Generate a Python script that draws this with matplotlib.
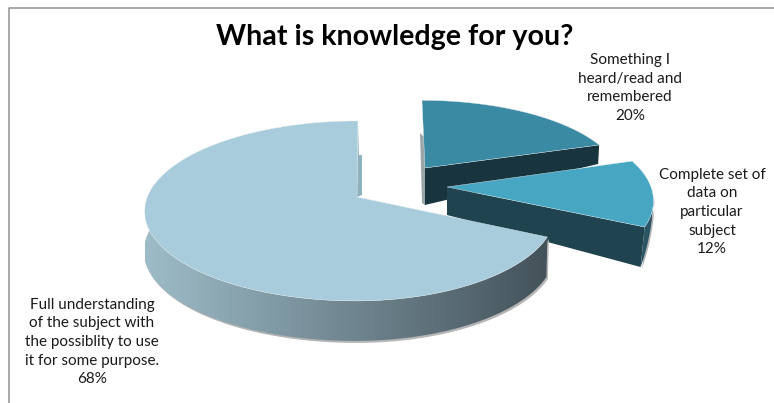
import numpy as np
import matplotlib
matplotlib.use('Agg')
import matplotlib.pyplot as plt
from matplotlib.colors import to_rgb
from matplotlib.patches import Polygon

plt.rcParams['font.family'] = ['Lato', 'DejaVu Sans']

# Survey results
labels = ['Something I\nheard/read and\nremembered\n20%',
          'Complete set of\ndata on\nparticular\nsubject\n12%',
          'Full understanding\nof the subject with\nthe possiblity to use\nit for some purpose.\n68%']
values = [20, 12, 68]

top_colors = ['#3b8aa3', '#47a6c2', '#a8ccdb']
cut_colors = ['#18343f', '#1f4450', '#44525a']

# apex position, radii, lean and thickness of each exploded slice (pixels)
apex = [(425, 168), (447, 187), (357, 197)]
radius_x = [193, 204, 197]
radius_y = [0.89, 1.0, 1.0]
lean = [-0.045, 0.0, 0.012]
depth_near = [37, 28, 38]
depth_far = [19, 40, 40]

W, H = 774, 403
fig = plt.figure(figsize=(W / 100, H / 100), dpi=100)
ax = fig.add_axes([0, 0, 1, 1])
ax.set_xlim(0, W)
ax.set_ylim(H, 0)
ax.axis('off')


def rim(theta, rx, sy, shear):
    # tilted circle, nearer edge drawn larger
    k = 0.155
    s, c = np.sin(theta), np.cos(theta)
    b = np.where(c < 0, 209.5, rx)
    px = b * c / (1 + k * s)
    py = -sy * 87.8 * s / (1 + k * s)
    return px - shear * py, py


def gradient(poly, c0, c1, x0, x1, z):
    # left to right shading clipped to a polygon
    t = np.linspace(0, 1, 256).reshape(1, -1, 1)
    img = np.array(to_rgb(c0)) + (np.array(to_rgb(c1)) - np.array(to_rgb(c0))) * t
    ys = poly[:, 1]
    im = ax.imshow(img, extent=[x0, x1, ys.max(), ys.min()], aspect='auto', zorder=z)
    patch = Polygon(poly, closed=True, fc='none', ec='none')
    ax.add_patch(patch)
    im.set_clip_path(patch)


# slices run clockwise from twelve o'clock
edges = 90 - np.concatenate([[0], np.cumsum(values)]) * 3.6
for i in range(3):
    ax0, ay0 = apex[i]
    th = np.radians(np.linspace(edges[i], edges[i + 1], 300))
    x, y = rim(th, radius_x[i], radius_y[i], lean[i])
    x, y = x + ax0, y + ay0
    z = 2 + i * 3

    # outer wall, only the part facing the viewer
    if i == 2:
        front = np.sin(th) < 0.15
        wx, wy = x[front], y[front]
        wall = np.vstack([np.c_[wx, wy], np.c_[wx - 1, wy + depth_far[i]][::-1]])
        ax.add_patch(Polygon(wall + [1.5, 2], closed=True, fc='#b5b5b5', ec='none', zorder=z - 1))
        gradient(wall, '#9dbcc8', '#44525a', wx.min(), wx.max(), z)
    elif i == 1:
        front = y > y[0] + 36
        wx, wy = x[front], y[front]
        grow = np.linspace(0, 1, len(wx))
        wall = np.vstack([np.c_[wx, wy], np.c_[wx - 4 * grow, wy + depth_far[i] * grow][::-1]])
        ax.add_patch(Polygon(wall + [1.5, 1], closed=True, fc='#b5b5b5', ec='none', zorder=z - 1))
        ax.add_patch(Polygon(wall, closed=True, fc='#2b5563', ec='none', zorder=z))

    # cut faces along the radii
    if i == 0:
        face = [(ax0, ay0), (x[-1], y[-1]), (x[-1] - 1, y[-1] + depth_far[i]), (ax0, ay0 + depth_near[i])]
        ax.add_patch(Polygon(face, closed=True, fc=cut_colors[i], ec='none', zorder=z + 1))
        # sliver of the hidden back wall
        sliver = [(ax0 - 5, ay0 - 35), (ax0, ay0 - 30), (ax0, ay0 + depth_near[i]), (ax0 - 3, ay0 + depth_near[i] - 2)]
        ax.add_patch(Polygon(sliver, closed=True, fc='#9aa6aa', ec='none', zorder=z))
    elif i == 1:
        face = [(ax0, ay0), (x[-1], y[-1]), (x[-1] - 4, y[-1] + depth_far[i]), (ax0, ay0 + depth_near[i])]
        ax.add_patch(Polygon(face, closed=True, fc=cut_colors[i], ec='none', zorder=z + 1))
    else:
        back = [(x[-1], y[-1]), (x[-1] + 1, y[-1] + 34), (ax0 + 5, ay0 - 42), (ax0 + 5, ay0 - 2), (ax0, ay0)]
        ax.add_patch(Polygon(back, closed=True, fc='#8fb0bd', ec='none', zorder=z - 1))
        end = [(x[0], y[0]), (x[0] - 2, y[0] + depth_far[i]), (x[0] - 5, y[0] + depth_far[i] - 2), (x[0] - 3, y[0])]
        ax.add_patch(Polygon(end, closed=True, fc=cut_colors[i], ec='none', zorder=z))

    # top face
    top = np.vstack([[ax0, ay0], np.c_[x, y]])
    ax.add_patch(Polygon(top, closed=True, fc=top_colors[i], ec='#dfeaee', lw=0.3, zorder=z + 2))

# chart frame, open at the right and bottom
ax.plot([9, 9, W], [H, 8, 8], color='#999999', lw=1.2, zorder=1)

ax.text(395, 37, 'What is knowledge for you?', ha='center', va='center',
        fontsize=20.6, fontweight='bold', color='black', zorder=20)

label_pos = [(630, 88), (712, 212), (92, 342)]
for lab, (lx, ly) in zip(labels, label_pos):
    ax.text(lx, ly, lab, ha='center', va='center', fontsize=11, color='#1a1a1a',
            linespacing=1.42, zorder=20)

fig.savefig('out.png', dpi=100)
